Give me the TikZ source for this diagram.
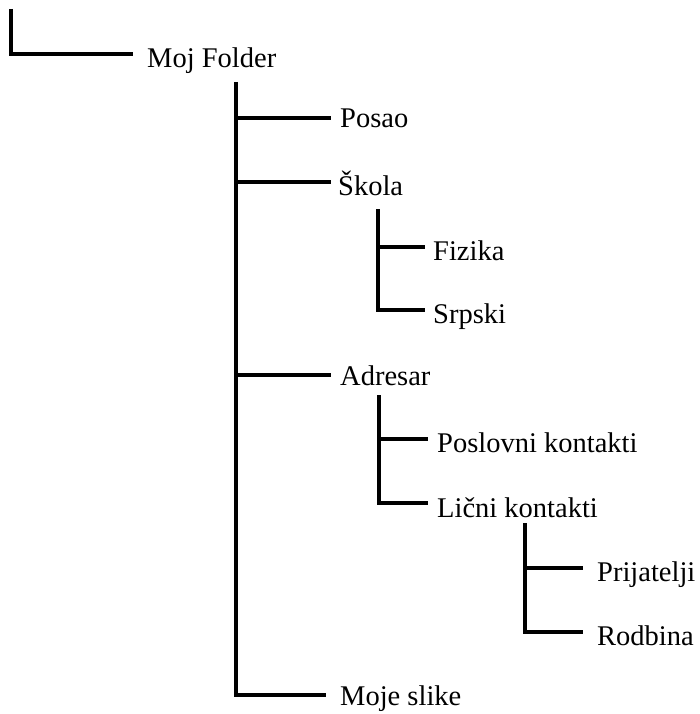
\documentclass[tikz,border=0pt]{standalone}
\usepackage{fontspec}
\setmainfont{Liberation Serif}
\begin{document}
\begin{tikzpicture}[x=1pt,y=-1pt,
  lbl/.style={anchor=base west, inner sep=0pt, font=\fontsize{28.5}{34}\selectfont},
  tree/.style={line width=3.6pt, line join=miter, line cap=butt}]
\useasboundingbox (0,0) rectangle (699,714);
% labels
\node[lbl] (moj) at (147,68) {Moj Folder};
\node[lbl] (posao) at (340,128) {Posao};
\node[lbl] (skola) at (338,195) {Škola};
\node[lbl] (fizika) at (433,260) {Fizika};
\node[lbl] (srpski) at (433,323) {Srpski};
\node[lbl] (adresar) at (340,385) {Adresar};
\node[lbl] (poslovni) at (437,452) {Poslovni kontakti};
\node[lbl] (licni) at (437,517) {Lični kontakti};
\node[lbl] (prij) at (597,581) {Prijatelji};
\node[lbl] (rod) at (597,645) {Rodbina};
\node[lbl] (slike) at (340,705) {Moje slike};
% connector coordinates
\coordinate (rootTop) at (11,9);
\coordinate (mojL) at (133,54);
\coordinate (mainTop) at (236,82);
\coordinate (posaoL) at (331,118);
\coordinate (skolaL) at (331,182);
\coordinate (adresarL) at (331,375);
\coordinate (slikeL) at (326,695);
\coordinate (skTop) at (378,209);
\coordinate (fizikaL) at (425,247);
\coordinate (srpskiL) at (425,310);
\coordinate (adTop) at (379,395);
\coordinate (poslovniL) at (428,439);
\coordinate (licniL) at (428,503);
\coordinate (liTop) at (525,523);
\coordinate (prijL) at (583,568);
\coordinate (rodL) at (583,632);
% tree lines
\draw[tree] (rootTop) |- (mojL);
\draw[tree] (mainTop) |- (slikeL);
\draw[tree] (mainTop |- posaoL) -- (posaoL);
\draw[tree] (mainTop |- skolaL) -- (skolaL);
\draw[tree] (mainTop |- adresarL) -- (adresarL);
\draw[tree] (skTop) |- (srpskiL);
\draw[tree] (skTop |- fizikaL) -- (fizikaL);
\draw[tree] (adTop) |- (licniL);
\draw[tree] (adTop |- poslovniL) -- (poslovniL);
\draw[tree] (liTop) |- (rodL);
\draw[tree] (liTop |- prijL) -- (prijL);
\end{tikzpicture}
\end{document}
